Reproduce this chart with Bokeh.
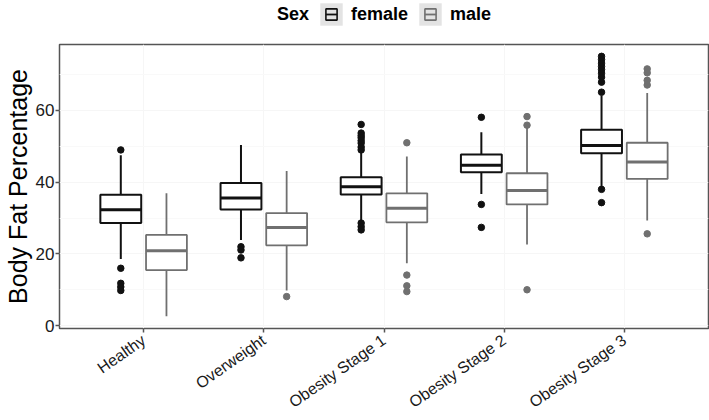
import math
from bokeh.plotting import figure
from bokeh.layouts import column
from bokeh.models import (ColumnDataSource, FactorRange, Range1d, Legend, LegendItem,
                          FixedTicker)
from bokeh.transform import dodge
from bokeh.embed import file_html
from bokeh.resources import INLINE

categories = ["Healthy", "Overweight", "Obesity Stage 1", "Obesity Stage 2", "Obesity Stage 3"]
sexes = ["female", "male"]

female_lower = [18.6, 23.9, 29.3, 36.7, 38.6]
female_q1 = [28.6, 32.4, 36.6, 42.8, 48.1]
female_median = [32.3, 35.6, 38.7, 44.7, 50.2]
female_q3 = [36.5, 39.8, 41.4, 47.7, 54.6]
female_upper = [47.5, 50.4, 48.4, 53.9, 64.2]

male_lower = [2.6, 9.8, 17.4, 22.6, 29.3]
male_q1 = [15.5, 22.4, 28.8, 33.8, 40.9]
male_median = [20.9, 27.4, 32.7, 37.7, 45.6]
male_q3 = [25.3, 31.4, 36.9, 42.5, 51.0]
male_upper = [36.9, 43.1, 47.2, 55.4, 64.9]

female_outlier_cats = (["Healthy"] * 5 + ["Overweight"] * 3 + ["Obesity Stage 1"] * 11
                       + ["Obesity Stage 2"] * 3 + ["Obesity Stage 3"] * 11)
female_outlier_values = [49.0, 16.0, 11.8, 10.8, 9.8,
                         22.0, 21.1, 18.9,
                         56.1, 53.7, 53.0, 52.4, 51.6, 50.9, 49.8, 49.0, 28.6, 27.6, 26.7,
                         58.1, 33.8, 27.4,
                         75.1, 74.2, 73.2, 72.3, 71.4, 70.4, 69.3, 67.9, 65.1, 38.0, 34.3]

male_outlier_cats = (["Overweight"] * 1 + ["Obesity Stage 1"] * 4
                     + ["Obesity Stage 2"] * 3 + ["Obesity Stage 3"] * 5)
male_outlier_values = [8.1,
                       51.0, 14.1, 11.1, 9.5,
                       58.3, 55.9, 10.0,
                       71.6, 70.5, 68.4, 67.1, 25.6]

y_ticks = [0, 20, 40, 60]
legend_title = "Sex"

FONT = "Liberation Sans"
FEMALE_COLOR = "#111111"
MALE_COLOR = "#707070"
BOX_W = 0.34
OFFSET = 0.19
NAN = float("nan")

# ---------------- main plot ----------------
p = figure(width=709, height=377, output_backend="svg", toolbar_location=None,
           x_range=FactorRange(factors=categories, range_padding=0.2,
                               range_padding_units="absolute"),
           y_range=Range1d(-0.8, 78.4),
           min_border_left=57, min_border_right=1, min_border_top=1, min_border_bottom=92)

p.background_fill_color = "white"
p.border_fill_color = "white"
p.outline_line_color = "#555555"
p.outline_line_width = 1.5


def draw_group(lower, q1, med, q3, upper, out_cats, out_vals, offset, color, lw, med_lw):
    src = ColumnDataSource(dict(cat=categories, lower=lower, q1=q1, med=med, q3=q3, upper=upper))
    xc = dodge("cat", offset, range=p.x_range)
    p.segment(x0=xc, y0="q3", x1=xc, y1="upper", source=src, line_color=color, line_width=lw)
    p.segment(x0=xc, y0="lower", x1=xc, y1="q1", source=src, line_color=color, line_width=lw)
    p.vbar(x=xc, width=BOX_W, bottom="q1", top="q3", source=src,
           fill_color="white", line_color=color, line_width=lw)
    p.segment(x0=dodge("cat", offset - BOX_W / 2, range=p.x_range), y0="med",
              x1=dodge("cat", offset + BOX_W / 2, range=p.x_range), y1="med",
              source=src, line_color=color, line_width=med_lw)
    osrc = ColumnDataSource(dict(cat=out_cats, val=out_vals))
    p.scatter(x=xc, y="val", source=osrc, size=6.5, fill_color=color, line_color=color)


draw_group(female_lower, female_q1, female_median, female_q3, female_upper,
           female_outlier_cats, female_outlier_values, -OFFSET, FEMALE_COLOR, 2, 3)
draw_group(male_lower, male_q1, male_median, male_q3, male_upper,
           male_outlier_cats, male_outlier_values, OFFSET, MALE_COLOR, 1.8, 3)

# axes
p.yaxis.ticker = FixedTicker(ticks=y_ticks, minor_ticks=[10, 30, 50, 70])
p.yaxis.axis_label = "Body Fat Percentage"
p.yaxis.axis_label_text_font = FONT
p.yaxis.axis_label_text_font_size = "25px"
p.yaxis.axis_label_text_font_style = "normal"
p.yaxis.axis_label_text_color = "black"
p.yaxis.axis_label_standoff = 1
p.yaxis.major_label_standoff = 1

for ax in (p.xaxis, p.yaxis):
    ax.axis_line_color = None
    ax.major_tick_line_color = "#555555"
    ax.major_tick_line_width = 1.5
    ax.major_tick_out = 4
    ax.major_tick_in = 0
    ax.minor_tick_line_color = None
    ax.major_label_text_font = FONT
    ax.major_label_text_color = "#1a1a1a"

p.yaxis.major_label_text_font_size = "17px"
p.xaxis.major_label_text_font_size = "16px"
p.xaxis.major_label_orientation = math.radians(35)
p.xaxis.major_label_standoff = 6

p.xgrid.grid_line_color = "#f6f6f6"
p.ygrid.grid_line_color = "#f6f6f6"
p.ygrid.minor_grid_line_color = "#f9f9f9"

# ---------------- legend strip ----------------
lg = figure(width=709, height=43, output_backend="svg", toolbar_location=None,
            x_range=Range1d(0, 1), y_range=Range1d(0, 1),
            min_border_left=57, min_border_right=1, min_border_top=0, min_border_bottom=0,
            outline_line_color=None)
lg.axis.visible = False
lg.grid.visible = False


def legend_key(color):
    bg = lg.quad(left=[NAN], right=[NAN], top=[NAN], bottom=[NAN],
                 fill_color="#e3e3e3", line_color=None)
    sq = lg.scatter(x=[NAN], y=[NAN], marker="square", fill_alpha=0,
                    line_color=color, line_width=1.6)
    md = lg.scatter(x=[NAN], y=[NAN], marker="dash", line_color=color, line_width=1.8)
    return [bg, sq, md]


title_r = lg.scatter(x=[NAN], y=[NAN], marker="circle", fill_alpha=0, line_alpha=0)
items = [LegendItem(label=legend_title, renderers=[title_r])]
items += [LegendItem(label=s, renderers=legend_key(c))
          for s, c in zip(sexes, [FEMALE_COLOR, MALE_COLOR])]
legend = Legend(items=items, orientation="horizontal", location=(184, 15),
                glyph_width=28, glyph_height=28, label_height=28, label_standoff=6, spacing=8,
                padding=0, margin=0, border_line_color=None, background_fill_alpha=0,
                label_text_font=FONT, label_text_font_size="18px", label_text_font_style="bold",
                label_text_color="black")
lg.add_layout(legend, "center")

layout = column(lg, p, spacing=0)
open("out.html", "w").write(file_html(layout, INLINE))
